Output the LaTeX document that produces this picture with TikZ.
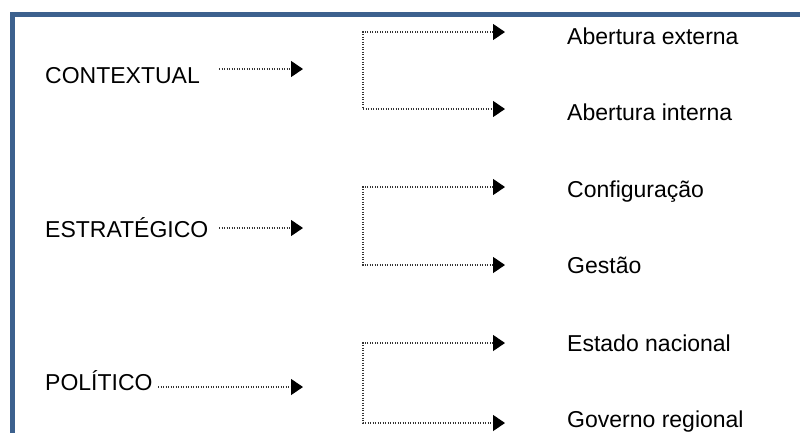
\documentclass[tikz,border=0pt]{standalone}
\usepackage{fontspec}
\setmainfont{Liberation Sans}
\usetikzlibrary{arrows.meta}
\definecolor{framecol}{RGB}{60,97,142}
\tikzset{
  lbl/.style={inner sep=0pt, anchor=base west, font=\fontsize{23}{27}\selectfont},
  dotline/.style={line width=1.3pt, dash pattern=on 1.3pt off 1.2pt, black!80},
  tip/.style={-{Triangle[length=12pt,width=16pt,black]}},
  tips/.style={{Triangle[length=12pt,width=16pt,black]}-{Triangle[length=12pt,width=16pt,black]}}
}
\begin{document}
\begin{tikzpicture}[x=1pt,y=-1pt]
\useasboundingbox (0,0) rectangle (800,432);
\clip (0,0) rectangle (800,432);
\fill[white] (0,0) rectangle (800,432);
\draw[framecol, line width=5pt] (12.5,440) -- (12.5,14.5) -- (810,14.5);

% left labels
\node[lbl] (ctx) at (45,83) {CONTEXTUAL};
\node[lbl] (est) at (45,237) {ESTRATÉGICO};
\node[lbl] (pol) at (45,390) {POLÍTICO};

% right labels
\node[lbl] (ae) at (567,44) {Abertura externa};
\node[lbl] (ai) at (567,120) {Abertura interna};
\node[lbl] (cf) at (567,197) {Configuração};
\node[lbl] (ge) at (567,273) {Gestão};
\node[lbl] (en) at (567,351) {Estado nacional};
\node[lbl] (gr) at (567,427) {Governo regional};

% left arrow ends
\coordinate (ctxe) at (303,69);
\coordinate (este) at (303,228);
\coordinate (pole) at (303,387);
\draw[dotline, tip] (219,69) -- (ctxe);
\draw[dotline, tip] (219,228) -- (este);
\draw[dotline, tip] (158,387) -- (pole);

% brackets
\coordinate (t1) at (505,32);  \coordinate (v1) at (363,32);
\coordinate (v2) at (363,109); \coordinate (t2) at (505,109);
\coordinate (t3) at (505,187); \coordinate (v3) at (363,187);
\coordinate (v4) at (363,265); \coordinate (t4) at (505,265);
\coordinate (t5) at (505,343); \coordinate (v5) at (363,343);
\coordinate (v6) at (363,423); \coordinate (t6) at (505,423);
\draw[dotline, tips] (t1) -- (v1) -- (v2) -- (t2);
\draw[dotline, tips] (t3) -- (v3) -- (v4) -- (t4);
\draw[dotline, tips] (t5) -- (v5) -- (v6) -- (t6);
\end{tikzpicture}
\end{document}
